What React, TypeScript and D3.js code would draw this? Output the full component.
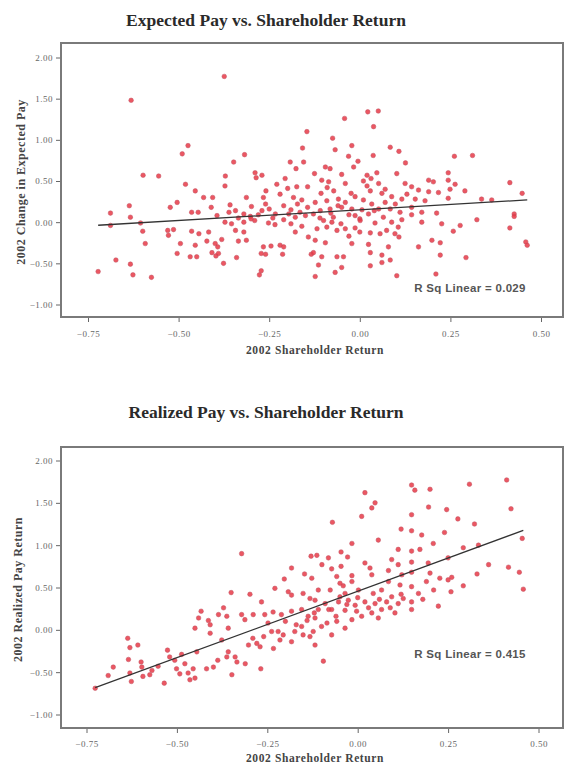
import React, { useEffect, useRef } from 'react';
import * as d3 from 'd3';

// [2002 shareholder return, 2002 change in expected pay]
const expectedPoints: [number, number][] = [
  [-0.374, 1.77], [-0.631, 1.48], [-0.146, 1.10], [-0.474, 0.93], [-0.49, 0.83], [-0.158, 0.90], [-0.318, 0.82],
  [-0.348, 0.73], [-0.155, 0.73], [-0.192, 0.73], [-0.176, 0.65], [-0.598, 0.57], [-0.555, 0.56], [-0.371, 0.56],
  [-0.289, 0.60], [-0.27, 0.57], [-0.286, 0.54], [-0.206, 0.53], [-0.481, 0.46], [-0.372, 0.44], [-0.229, 0.46],
  [-0.174, 0.43], [-0.144, 0.43], [-0.454, 0.38], [-0.259, 0.38], [-0.199, 0.41], [-0.431, 0.30], [-0.406, 0.30],
  [-0.313, 0.30], [-0.266, 0.30], [-0.22, 0.34], [-0.183, 0.30], [-0.16, 0.27], [-0.504, 0.24], [-0.523, 0.18],
  [-0.636, 0.20], [-0.41, 0.18], [-0.358, 0.21], [-0.299, 0.19], [-0.25, 0.16], [-0.21, 0.20], [-0.172, 0.22],
  [-0.144, 0.18], [-0.688, 0.11], [-0.633, 0.06], [-0.464, 0.12], [-0.446, 0.12], [-0.394, 0.08], [-0.361, 0.12],
  [-0.343, 0.14], [-0.32, 0.10], [-0.302, 0.07], [-0.27, 0.14], [-0.233, 0.10], [-0.196, 0.10], [-0.178, 0.06],
  [-0.15, 0.08], [-0.688, -0.04], [-0.605, -0.01], [-0.372, 0.00], [-0.354, -0.02], [-0.32, 0.00], [-0.29, 0.02],
  [-0.252, -0.01], [-0.234, -0.03], [-0.19, -0.02], [-0.16, -0.05], [-0.599, -0.11], [-0.53, -0.10], [-0.514, -0.09],
  [-0.464, -0.11], [-0.444, -0.14], [-0.417, -0.12], [-0.528, -0.16], [-0.343, -0.10], [-0.32, -0.12], [-0.178, -0.12],
  [-0.142, -0.18], [-0.592, -0.26], [-0.495, -0.26], [-0.454, -0.28], [-0.422, -0.23], [-0.399, -0.26], [-0.392, -0.30],
  [-0.381, -0.21], [-0.335, -0.23], [-0.313, -0.22], [-0.266, -0.30], [-0.245, -0.29], [-0.22, -0.28], [-0.21, -0.30],
  [-0.504, -0.38], [-0.468, -0.42], [-0.45, -0.42], [-0.408, -0.37], [-0.397, -0.41], [-0.39, -0.38], [-0.272, -0.38],
  [-0.26, -0.39], [-0.213, -0.39], [-0.673, -0.46], [-0.34, -0.43], [-0.376, -0.50], [-0.633, -0.51], [-0.722, -0.60],
  [-0.626, -0.64], [-0.575, -0.67], [-0.272, -0.59], [-0.277, -0.64], [-0.134, -0.39],
  [-0.30, 0.04], [-0.28, 0.09], [-0.24, 0.05], [-0.21, 0.03], [-0.19, 0.15], [-0.165, 0.12], [-0.335, 0.05],
  [-0.26, 0.22], [-0.11, 0.05], [-0.08, 0.11], [-0.03, 0.09], [-0.06, 0.20], [0.00, 0.04], [0.04, 0.14],
  [0.02, 0.44], [0.07, 0.40], [-0.09, 0.42], [0.13, 0.34], [0.00, -0.12], [-0.03, -0.17],
  [0.022, 1.34], [0.051, 1.35], [-0.042, 1.26], [0.038, 1.16], [-0.075, 1.02], [-0.022, 0.93], [-0.068, 0.88],
  [0.084, 0.91], [0.108, 0.86], [0.037, 0.81], [0.261, 0.80], [0.311, 0.81], [-0.031, 0.80], [0.126, 0.72],
  [-0.005, 0.74], [-0.017, 0.67], [-0.095, 0.67], [-0.082, 0.65], [-0.125, 0.59], [-0.05, 0.58], [0.02, 0.57],
  [0.047, 0.60], [0.031, 0.53], [0.102, 0.59], [0.244, 0.60], [-0.105, 0.51], [-0.086, 0.49], [-0.04, 0.47],
  [0.01, 0.50], [0.052, 0.47], [0.125, 0.47], [0.19, 0.51], [0.203, 0.49], [0.244, 0.51], [0.263, 0.46],
  [0.414, 0.48], [0.143, 0.43], [0.162, 0.39], [0.19, 0.37], [0.217, 0.36], [0.29, 0.38], [0.249, 0.40],
  [-0.107, 0.35], [-0.072, 0.38], [-0.024, 0.35], [-0.013, 0.31], [0.029, 0.38], [0.088, 0.31], [0.061, 0.35],
  [0.448, 0.35], [-0.123, 0.24], [-0.091, 0.26], [-0.059, 0.28], [-0.04, 0.24], [0.01, 0.27], [0.033, 0.22],
  [0.07, 0.24], [0.098, 0.22], [0.116, 0.28], [0.153, 0.28], [0.18, 0.26], [0.244, 0.29], [0.336, 0.28],
  [0.364, 0.27], [-0.109, 0.14], [-0.082, 0.16], [-0.05, 0.18], [-0.022, 0.16], [0.006, 0.15], [0.052, 0.16],
  [0.084, 0.16], [0.111, 0.12], [0.143, 0.18], [0.171, 0.12], [0.212, 0.11], [-0.128, 0.10], [-0.073, 0.06],
  [-0.013, 0.08], [0.024, 0.10], [0.065, 0.06], [0.426, 0.10], [0.143, 0.09], [-0.1, 0.02], [-0.077, 0.00],
  [-0.052, -0.02], [0.001, 0.02], [0.042, -0.01], [0.088, 0.00], [0.116, 0.03], [0.171, 0.00], [0.323, 0.03],
  [0.426, 0.07], [0.226, -0.02], [-0.118, -0.08], [-0.091, -0.06], [-0.063, -0.10], [-0.04, -0.08], [-0.013, -0.07],
  [0.029, -0.13], [0.056, -0.14], [0.074, -0.10], [0.106, -0.06], [0.097, -0.14], [0.277, -0.04], [0.258, -0.11],
  [0.414, -0.07], [-0.123, -0.22], [-0.095, -0.25], [-0.022, -0.26], [0.024, -0.27], [0.079, -0.30], [0.108, -0.18],
  [0.162, -0.30], [0.199, -0.22], [0.222, -0.25], [0.458, -0.24], [0.462, -0.28], [-0.128, -0.37], [-0.105, -0.42],
  [-0.063, -0.42], [-0.045, -0.42], [0.029, -0.37], [0.061, -0.40], [0.084, -0.46], [0.222, -0.40], [0.293, -0.43],
  [-0.114, -0.52], [-0.05, -0.55], [0.029, -0.53], [0.061, -0.49], [-0.068, -0.61], [-0.123, -0.66], [0.102, -0.65],
  [0.21, -0.63]
];

// [2002 shareholder return, 2002 realized pay return]
const realizedPoints: [number, number][] = [
  [-0.321, 0.90], [-0.183, 0.73], [-0.203, 0.60], [-0.147, 0.66], [-0.129, 0.87], [-0.35, 0.44], [-0.298, 0.42],
  [-0.229, 0.49], [-0.192, 0.45], [-0.183, 0.41], [-0.151, 0.43], [-0.132, 0.37], [-0.266, 0.33], [-0.371, 0.26],
  [-0.433, 0.22], [-0.44, 0.14], [-0.413, 0.11], [-0.385, 0.18], [-0.362, 0.16], [-0.321, 0.18], [-0.312, 0.12],
  [-0.289, 0.18], [-0.257, 0.18], [-0.234, 0.21], [-0.211, 0.18], [-0.183, 0.22], [-0.155, 0.24], [-0.137, 0.16],
  [-0.45, 0.02], [-0.408, 0.06], [-0.358, 0.02], [-0.408, -0.04], [-0.376, -0.12], [-0.248, 0.08], [-0.22, -0.02],
  [-0.206, -0.06], [-0.174, -0.02], [-0.155, 0.04], [-0.151, -0.06], [-0.183, -0.14], [-0.132, -0.08], [-0.215, -0.12],
  [-0.238, -0.02], [-0.636, -0.10], [-0.63, -0.21], [-0.608, -0.18], [-0.634, -0.35], [-0.599, -0.38], [-0.676, -0.44],
  [-0.69, -0.54], [-0.63, -0.51], [-0.626, -0.61], [-0.594, -0.55], [-0.575, -0.53], [-0.552, -0.43], [-0.526, -0.24],
  [-0.52, -0.32], [-0.506, -0.36], [-0.487, -0.29], [-0.501, -0.46], [-0.492, -0.52], [-0.469, -0.51], [-0.464, -0.59],
  [-0.45, -0.57], [-0.455, -0.46], [-0.535, -0.63], [-0.445, -0.26], [-0.418, -0.46], [-0.399, -0.44], [-0.387, -0.36],
  [-0.362, -0.32], [-0.358, -0.26], [-0.339, -0.32], [-0.334, -0.38], [-0.348, -0.53], [-0.311, -0.40], [-0.302, -0.18],
  [-0.279, -0.16], [-0.27, -0.20], [-0.268, -0.46], [-0.233, -0.22], [-0.597, -0.44], [-0.569, -0.48], [-0.726, -0.69],
  [-0.478, -0.40],
  [-0.20, 0.10], [-0.17, 0.06], [-0.14, 0.11], [-0.26, -0.08], [-0.29, -0.10], [-0.12, 0.20], [-0.10, 0.04],
  [-0.06, 0.16], [-0.03, 0.30], [0.00, 0.38], [0.03, 0.26], [0.06, 0.36], [0.09, 0.26], [0.12, 0.42],
  [0.18, 0.36], [0.21, 0.47], [0.26, 0.62], [0.33, 0.66], [-0.08, 0.24], [-0.04, 0.52],
  [0.412, 1.77], [0.309, 1.72], [0.149, 1.71], [0.158, 1.65], [0.2, 1.66], [0.02, 1.62], [0.424, 1.43],
  [0.048, 1.50], [0.039, 1.44], [0.196, 1.45], [0.246, 1.42], [0.149, 1.36], [0.011, 1.34], [0.277, 1.31],
  [0.323, 1.25], [-0.07, 1.27], [0.12, 1.19], [0.149, 1.17], [0.177, 1.12], [0.24, 1.15], [0.057, 1.06],
  [0.209, 1.02], [-0.016, 1.02], [0.455, 1.08], [0.112, 0.95], [0.149, 0.93], [0.172, 0.95], [0.292, 0.97],
  [0.334, 1.00], [-0.046, 0.92], [-0.113, 0.88], [-0.081, 0.85], [-0.028, 0.86], [0.02, 0.79], [0.094, 0.83],
  [0.112, 0.77], [0.149, 0.80], [0.195, 0.79], [0.25, 0.85], [0.362, 0.77], [0.417, 0.74], [0.447, 0.68],
  [-0.099, 0.77], [-0.072, 0.72], [-0.046, 0.75], [-0.016, 0.64], [0.034, 0.73], [0.039, 0.65], [0.085, 0.70],
  [0.122, 0.65], [0.149, 0.68], [0.2, 0.67], [0.227, 0.61], [0.25, 0.59], [0.19, 0.57], [-0.127, 0.61],
  [-0.058, 0.63], [-0.049, 0.55], [-0.016, 0.57], [0.085, 0.57], [0.117, 0.53], [0.149, 0.51], [0.292, 0.52],
  [0.258, 0.45], [0.458, 0.48], [-0.109, 0.47], [-0.076, 0.47], [-0.035, 0.43], [0.002, 0.47], [0.043, 0.43],
  [0.066, 0.47], [0.094, 0.39], [0.126, 0.37], [0.168, 0.43], [-0.118, 0.35], [-0.09, 0.31], [-0.053, 0.33],
  [-0.026, 0.35], [0.02, 0.33], [0.048, 0.31], [0.08, 0.33], [0.112, 0.31], [0.149, 0.33], [-0.109, 0.24],
  [-0.072, 0.24], [-0.035, 0.23], [-0.003, 0.22], [0.039, 0.20], [0.066, 0.24], [0.103, 0.20], [0.149, 0.24],
  [0.223, 0.28], [-0.118, 0.14], [-0.085, 0.08], [-0.058, 0.10], [-0.035, 0.02], [-0.016, 0.12], [0.011, 0.16],
  [0.057, 0.14], [-0.123, -0.02], [-0.072, -0.06], [-0.118, -0.18], [-0.095, -0.37], [-0.007, 0.29], [-0.049, 0.39]
];

// recta "R Sq Linear": [ordenada, pendiente]
const expectedFit = [0.15, 0.26];
const realizedFit = [0.456, 1.57];

const xTicks = [-0.75, -0.5, -0.25, 0, 0.25, 0.5];
const yTicks = [-1, -0.5, 0, 0.5, 1, 1.5, 2];

const charts = [
  {
    title: 'Expected Pay vs. Shareholder Return',
    yLabel: '2002 Change in Expected Pay',
    xLabel: '2002 Shareholder Return',
    rsq: 'R Sq Linear = 0.029',
    points: expectedPoints,
    fit: expectedFit,
    frame: { left: 61, right: 563, top: 43, bottom: 317 },
    xRange: [88, 541],
    yRange: [304.5, 57.5],
    titleY: 26,
    tickLabelY: 334,
    xLabelY: 354,
    yLabelX: 25,
    rsqPos: [470, 292]
  },
  {
    title: 'Realized Pay vs. Shareholder Return',
    yLabel: '2002 Realized Pay Return',
    xLabel: '2002 Shareholder Return',
    rsq: 'R Sq Linear = 0.415',
    points: realizedPoints,
    fit: realizedFit,
    frame: { left: 61, right: 563, top: 447, bottom: 728 },
    xRange: [86.5, 538.5],
    yRange: [714.5, 460.5],
    titleY: 418,
    tickLabelY: 744,
    xLabelY: 762,
    yLabelX: 22,
    rsqPos: [470, 658]
  }
];

const App = () => {
  const svgRef = useRef<SVGSVGElement>(null);

  useEffect(() => {
    const svg = d3.select(svgRef.current);
    svg.selectAll('*').remove();

    charts.forEach(c => {
      const g = svg.append('g');
      const x = d3.scaleLinear().domain([-0.75, 0.5]).range(c.xRange);
      const y = d3.scaleLinear().domain([-1, 2]).range(c.yRange);
      const f = c.frame;

      // titulo
      g.append('text')
        .attr('x', 266).attr('y', c.titleY)
        .attr('text-anchor', 'middle')
        .style('font-family', '"Liberation Serif", serif')
        .style('font-weight', 'bold').style('font-size', '17.5px')
        .attr('fill', '#2a2a2a')
        .text(c.title);

      // ejes
      const xAxis = d3.axisBottom(x).tickValues(xTicks).tickFormat(d3.format('.2f')).tickSize(4);
      g.append('g')
        .attr('transform', `translate(0,${f.bottom + 1})`)
        .call(xAxis)
        .call(a => {
          a.select('.domain').remove();
          a.selectAll('.tick line').attr('stroke', '#666');
          a.selectAll('text')
            .attr('y', c.tickLabelY - f.bottom - 1).attr('dy', '0.32em')
            .attr('fill', '#666')
            .style('letter-spacing', '0.5px')
            .style('font-family', '"Liberation Serif", serif').style('font-size', '9px');
        });

      const yAxis = d3.axisLeft(y).tickValues(yTicks).tickFormat(d3.format('.2f')).tickSize(4);
      g.append('g')
        .attr('transform', `translate(${f.left - 1},0)`)
        .call(yAxis)
        .call(a => {
          a.select('.domain').remove();
          a.selectAll('.tick line').attr('stroke', '#666');
          a.selectAll('text')
            .attr('fill', '#666')
            .style('letter-spacing', '0.5px')
            .style('font-family', '"Liberation Serif", serif').style('font-size', '9px');
        });

      // etiquetas de ejes
      g.append('text')
        .attr('x', (f.left + f.right) / 2 + 3).attr('y', c.xLabelY)
        .attr('text-anchor', 'middle')
        .style('font-family', '"Liberation Serif", serif')
        .style('font-weight', 'bold').style('font-size', '11.5px')
        .style('letter-spacing', '0.6px')
        .attr('fill', '#444')
        .text(c.xLabel);

      g.append('text')
        .attr('transform', `translate(${c.yLabelX},${(f.top + f.bottom) / 2 + 2}) rotate(-90)`)
        .attr('text-anchor', 'middle')
        .style('font-family', '"Liberation Serif", serif')
        .style('font-weight', 'bold').style('font-size', '12px')
        .style('letter-spacing', '0.5px')
        .attr('fill', '#444')
        .text(c.yLabel);

      // puntos
      g.append('g')
        .selectAll('circle')
        .data(c.points)
        .enter()
        .append('circle')
        .attr('cx', d => x(d[0]))
        .attr('cy', d => y(d[1]))
        .attr('r', 2.3)
        .attr('fill', '#e83a46')
        .attr('fill-opacity', 0.85)
        .attr('stroke', '#c05060')
        .attr('stroke-width', 0.5);

      // recta de ajuste
      const [b0, b1] = c.fit;
      const ext = d3.extent(c.points, d => d[0]) as [number, number];
      const line = d3.line<number>().x(v => x(v)).y(v => y(b0 + b1 * v));
      g.append('path')
        .datum(ext)
        .attr('d', line)
        .attr('fill', 'none')
        .attr('stroke', '#333')
        .attr('stroke-width', 1.3);

      g.append('text')
        .attr('x', c.rsqPos[0]).attr('y', c.rsqPos[1])
        .attr('text-anchor', 'middle')
        .style('font-family', '"Liberation Sans", Arial, sans-serif')
        .style('font-weight', 'bold').style('font-size', '11.5px')
        .style('letter-spacing', '0.3px')
        .attr('fill', '#555')
        .text(c.rsq);

      // marco
      g.append('rect')
        .attr('x', f.left).attr('y', f.top)
        .attr('width', f.right - f.left).attr('height', f.bottom - f.top)
        .attr('fill', 'none')
        .attr('stroke', '#7a7a7a')
        .attr('stroke-width', 2);
    });
  }, []);

  return (
    <svg ref={svgRef} width={570} height={766}
      style={{ position: 'absolute', left: 0, top: 0, background: '#fff' }} />
  );
};

export default App;
